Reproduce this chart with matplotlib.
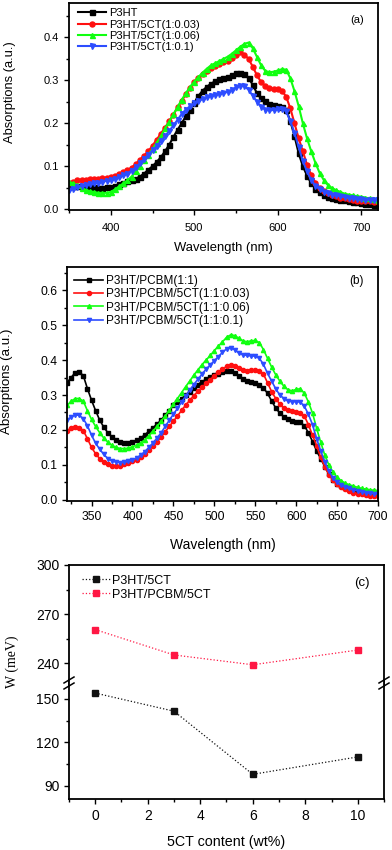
import numpy as np
import matplotlib
matplotlib.use("Agg")
import matplotlib.pyplot as plt
from matplotlib.lines import Line2D

plt.rcParams["font.family"] = ["Liberation Sans", "DejaVu Sans"]

# ---- panel (a): P3HT / 5CT films, 350-720 nm every 5 nm ----
wl_a = np.arange(350, 721, 5)
p3ht = [.056, .055, .055, .054, .053, .052, .051, .050, .050, .051,
        .052, .055, .058, .062, .065, .068, .071, .076, .083, .092,
        .100, .110, .121, .135, .150, .168, .185, .200, .217, .232,
        .248, .264, .276, .285, .292, .298, .303, .306, .308, .312,
        .317, .318, .315, .305, .290, .270, .258, .252, .246, .242,
        .240, .239, .232, .205, .170, .130, .100, .078, .060, .048,
        .040, .034, .029, .026, .024, .022, .021, .019, .017, .016,
        .015, .013, .011, .010, .009]
p3ht_003 = [.060, .064, .067, .068, .069, .070, .071, .071, .072, .073,
            .075, .078, .082, .086, .091, .097, .105, .115, .125, .135,
            .148, .162, .176, .190, .205, .220, .237, .252, .268, .283,
            .296, .305, .314, .322, .328, .333, .338, .342, .346, .352,
            .360, .365, .360, .350, .332, .312, .296, .287, .283, .280,
            .279, .276, .262, .235, .200, .165, .135, .103, .080, .062,
            .050, .042, .037, .033, .030, .027, .025, .023, .021, .020,
            .019, .018, .018, .017, .017]
p3ht_006 = [.064, .060, .056, .050, .045, .042, .040, .038, .038, .038,
            .040, .046, .053, .060, .067, .076, .088, .100, .114, .127,
            .140, .155, .170, .188, .204, .221, .238, .255, .270, .285,
            .297, .308, .318, .327, .335, .340, .345, .350, .355, .362,
            .370, .378, .385, .388, .375, .355, .335, .322, .319, .320,
            .323, .326, .325, .305, .275, .240, .200, .165, .135, .108,
            .085, .068, .056, .049, .044, .040, .036, .034, .032, .030,
            .029, .027, .025, .023, .022]
p3ht_01 = [.044, .048, .052, .054, .056, .058, .060, .062, .064, .066,
           .068, .071, .075, .079, .083, .090, .098, .107, .117, .127,
           .137, .147, .158, .170, .182, .195, .208, .222, .232, .240,
           .247, .253, .257, .261, .264, .267, .269, .271, .273, .278,
           .284, .288, .287, .278, .264, .250, .238, .232, .230, .231,
           .233, .234, .228, .205, .178, .145, .112, .088, .068, .055,
           .047, .041, .037, .034, .032, .030, .028, .027, .025, .024,
           .023, .022, .022, .021, .021]
labels_a = ["P3HT", "P3HT/5CT(1:0.03)", "P3HT/5CT(1:0.06)", "P3HT/5CT(1:0.1)"]

# ---- panel (b): P3HT/PCBM/5CT films, 320-700 nm every 5 nm ----
wl_b = np.arange(320, 701, 5)
pcbm = [.335, .350, .364, .366, .355, .318, .285, .255, .228, .208,
        .192, .180, .172, .167, .164, .164, .166, .170, .177, .186,
        .196, .206, .217, .228, .242, .255, .270, .280, .290, .300,
        .310, .320, .330, .338, .345, .351, .356, .361, .366, .369,
        .368, .362, .353, .345, .340, .336, .334, .330, .320, .305,
        .283, .263, .248, .238, .230, .226, .224, .222, .212, .192,
        .167, .140, .118, .095, .074, .058, .046, .039, .035, .031,
        .029, .027, .026, .025, .024, .023, .022]
pcbm_003 = [.198, .205, .208, .206, .198, .175, .150, .132, .118, .108,
            .102, .098, .097, .098, .102, .106, .110, .115, .122, .131,
            .142, .154, .166, .180, .195, .210, .225, .240, .256, .271,
            .285, .298, .311, .322, .333, .344, .355, .365, .374, .382,
            .386, .384, .378, .372, .370, .371, .371, .369, .360, .335,
            .310, .290, .274, .262, .256, .254, .252, .249, .240, .215,
            .185, .155, .122, .095, .072, .056, .045, .036, .030, .025,
            .021, .018, .016, .014, .012, .011, .010]
pcbm_006 = [.270, .282, .290, .290, .282, .255, .230, .210, .192, .177,
            .165, .156, .150, .147, .147, .148, .152, .157, .163, .172,
            .184, .197, .210, .225, .240, .256, .273, .290, .307, .324,
            .340, .357, .372, .387, .400, .413, .427, .440, .452, .465,
            .472, .470, .462, .455, .452, .455, .456, .450, .430, .405,
            .380, .358, .340, .325, .315, .312, .316, .318, .305, .280,
            .248, .205, .165, .128, .100, .080, .065, .055, .048, .043,
            .040, .036, .033, .031, .029, .027, .026]
pcbm_01 = [.228, .237, .243, .242, .232, .212, .185, .162, .145, .130,
           .118, .112, .108, .107, .108, .110, .114, .120, .128, .138,
           .150, .163, .177, .192, .210, .228, .245, .262, .280, .297,
           .314, .330, .345, .360, .374, .386, .398, .410, .422, .432,
           .434, .430, .420, .415, .413, .412, .411, .405, .388, .362,
           .340, .318, .300, .290, .283, .281, .281, .280, .268, .245,
           .215, .175, .140, .108, .082, .063, .050, .042, .037, .033,
           .029, .026, .023, .021, .019, .018, .017]
labels_b = ["P3HT/PCBM(1:1)", "P3HT/PCBM/5CT(1:1:0.03)",
            "P3HT/PCBM/5CT(1:1:0.06)", "P3HT/PCBM/5CT(1:1:0.1)"]

# ---- panel (c): W vs 5CT content ----
content = [0, 3, 6, 10]
w_p3ht = [154, 141.5, 98, 110]
w_pcbm = [260.5, 245, 239, 248]

colors = ["black", "#ff1010", "#10ff10", "#2d4dff"]
markers = ["s", "o", "^", "v"]

fig = plt.figure(figsize=(3.92, 8.5), dpi=100)


def style_axes(ax, size, pad=3.5):
    for s in ax.spines.values():
        s.set_linewidth(1.3)
    ax.tick_params(which="major", direction="out", length=3.5, width=1,
                   labelsize=size, pad=pad, top=False, right=False)
    ax.tick_params(which="minor", direction="out", length=2, width=1,
                   top=False, right=False)


# (a)
ax_a = fig.add_axes([0.176, 0.7529, 0.7883, 0.2435])
for ys, c, m, lab in zip([p3ht, p3ht_003, p3ht_006, p3ht_01], colors, markers, labels_a):
    ax_a.plot(wl_a, ys, color=c, marker=m, markersize=3.6, linewidth=1.5, label=lab)
ax_a.set_xlim(350, 720)
ax_a.set_ylim(-0.002, 0.48)
ax_a.set_xticks([400, 500, 600, 700])
ax_a.set_xticks(np.arange(350, 721, 50), minor=True)
ax_a.set_yticks([0.0, 0.1, 0.2, 0.3, 0.4])
ax_a.set_yticks(np.arange(0, 0.46, 0.05), minor=True)
ax_a.yaxis.set_major_formatter(matplotlib.ticker.FormatStrFormatter("%.1f"))
style_axes(ax_a, 8)
ax_a.tick_params(axis="x", pad=6)
ax_a.set_xlabel("Wavelength (nm)", fontsize=9.4, labelpad=6)
ax_a.set_ylabel("Absorptions (a.u.)", fontsize=9.3)
ax_a.yaxis.set_label_coords(-0.17, 0.57)
ax_a.legend(loc="upper left", bbox_to_anchor=(0.03, 0.975), frameon=False,
            fontsize=8, borderpad=0, borderaxespad=0, handlelength=2.5,
            handletextpad=0.3, labelspacing=0.12)
ax_a.text(0.955, 0.92, "(a)", transform=ax_a.transAxes, ha="right", va="center", fontsize=8)

# (b)
ax_b = fig.add_axes([0.1709, 0.4106, 0.7934, 0.2753])
for ys, c, m, lab in zip([pcbm, pcbm_003, pcbm_006, pcbm_01], colors, markers, labels_b):
    ax_b.plot(wl_b, ys, color=c, marker=m, markersize=3.0, linewidth=1.2, label=lab)
ax_b.set_xlim(320, 700)
ax_b.set_ylim(-0.003, 0.666)
ax_b.set_xticks(np.arange(350, 701, 50))
ax_b.set_xticks(np.arange(325, 701, 25), minor=True)
ax_b.set_yticks(np.arange(0, 0.61, 0.1))
ax_b.set_yticks(np.arange(0, 0.66, 0.05), minor=True)
ax_b.yaxis.set_major_formatter(matplotlib.ticker.FormatStrFormatter("%.1f"))
style_axes(ax_b, 8.7)
ax_b.set_xlabel("Wavelength (nm)", fontsize=10, labelpad=11)
ax_b.set_ylabel("Absorptions (a.u.)", fontsize=9.6)
ax_b.yaxis.set_label_coords(-0.172, 0.51)
ax_b.legend(loc="upper left", bbox_to_anchor=(0.022, 0.965), frameon=False,
            fontsize=8.5, borderpad=0, borderaxespad=0, handlelength=2.5,
            handletextpad=0.25, labelspacing=0.1)
ax_b.text(0.955, 0.94, "(b)", transform=ax_b.transAxes, ha="right", va="center", fontsize=8.5)

# (c) broken y axis
ax_up = fig.add_axes([0.176, 0.1929, 0.8036, 0.1424])
ax_lo = fig.add_axes([0.176, 0.06, 0.8036, 0.14])
for ax in (ax_up, ax_lo):
    ax.plot(content, w_p3ht, color="#111111", linestyle=":", linewidth=0.9,
            marker="s", markersize=4, label="P3HT/5CT")
    ax.plot(content, w_pcbm, color="#ff1744", linestyle=":", linewidth=0.9,
            marker="s", markersize=4, label="P3HT/PCBM/5CT")
    ax.set_xlim(-1, 11)
    style_axes(ax, 10)
ax_up.set_ylim(226, 300)
ax_lo.set_ylim(81, 163)
ax_up.set_yticks([240, 270, 300])
ax_up.set_yticks([255, 285], minor=True)
ax_lo.set_yticks([90, 120, 150])
ax_lo.set_yticks([105, 135], minor=True)
ax_lo.set_xticks([0, 2, 4, 6, 8, 10])
ax_lo.set_xticks(np.arange(-1, 11.1, 1), minor=True)
ax_up.spines["bottom"].set_visible(False)
ax_lo.spines["top"].set_visible(False)
ax_up.tick_params(axis="x", which="both", bottom=False, labelbottom=False)
ax_lo.set_xlabel("5CT content (wt%)", fontsize=10.3, labelpad=9)
fig.text(0.03, 0.221, "W (meV)", rotation=90, ha="center", va="center",
         fontsize=10, family=["Liberation Serif", "DejaVu Serif"])
ax_up.legend(loc="upper left", bbox_to_anchor=(0.04, 0.92), frameon=False,
             fontsize=9, borderpad=0, borderaxespad=0, handlelength=2.3,
             handletextpad=0.15, labelspacing=0.15)
ax_up.text(0.955, 0.85, "(c)", transform=ax_up.transAxes, ha="right", va="center", fontsize=9.5)

# break marks on both side spines
W, H = 392.0, 850.0
for xp in (69, 384):
    for yp in (680, 686):
        x0, x1 = (xp - 5) / W, (xp + 5) / W
        y0, y1 = (H - yp - 3) / H, (H - yp + 3) / H
        fig.add_artist(Line2D([x0, x1], [y0, y1], color="black", linewidth=1.1))

fig.savefig("out.png", dpi=100, facecolor="white")
